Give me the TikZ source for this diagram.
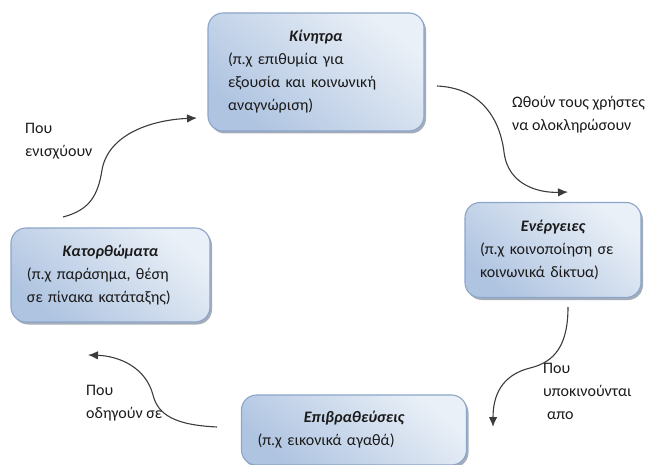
\documentclass[tikz,border=0pt]{standalone}
\usepackage{fontspec}
\setmainfont{Carlito}
\usetikzlibrary{arrows.meta,shadows}

\definecolor{boxedge}{HTML}{8CA5C9}
\definecolor{boxdark}{HTML}{AFC4E1}
\definecolor{boxlight}{HTML}{EAF0F7}
\definecolor{boxshade}{HTML}{5A6A80}
\definecolor{ink}{HTML}{1A1A1A}

\tikzset{
  stagebox/.style={
    draw=boxedge, line width=1.1pt, rounded corners=15pt,
    top color=boxdark, bottom color=boxlight, shading angle=140,
    drop shadow={shadow xshift=2pt, shadow yshift=-2.5pt,
                 fill=boxshade, opacity=0.55},
    inner sep=0pt, align=left, font=\fontsize{16}{23}\selectfont,
    text=ink
  },
  cyclearrow/.style={
    draw=ink!85, line width=1.1pt,
    -{Latex[length=10pt,width=8.5pt]}
  },
  arrowlabel/.style={
    anchor=north west, inner sep=0pt, align=left, text=ink,
    font=\fontsize{16}{23}\selectfont
  }
}
\newcommand{\stagetitle}[1]{\makebox[\linewidth]{\bfseries\itshape #1}}

\begin{document}
\begin{tikzpicture}[x=1pt,y=-1pt]
  \useasboundingbox (0,0) rectangle (650,465);

  % the four stages of the cycle
  \node[stagebox, minimum width=216pt, minimum height=118pt, text width=176pt]
    (kin) at (316,72)
    {\stagetitle{Κίνητρα}\\(π.χ επιθυμία για\\εξουσία και κοινωνική\\αναγνώριση)};
  \node[stagebox, minimum width=176pt, minimum height=95pt, text width=146pt]
    (ene) at (553,250)
    {\stagetitle{Ενέργειες}\\(π.χ κοινοποίηση σε\\κοινωνικά δίκτυα)};
  \node[stagebox, minimum width=225pt, minimum height=70pt, text width=193pt]
    (epi) at (354,430)
    {\stagetitle{Επιβραθεύσεις}\\(π.χ εικονικά αγαθά)};
  \node[stagebox, minimum width=199pt, minimum height=94pt, text width=167pt]
    (kat) at (110.5,275)
    {\stagetitle{Κατορθώματα}\\(π.χ παράσημα, θέση\\σε πίνακα κατάταξης)};

  % loose ends of the curved connectors
  \coordinate (kinout) at (437,86);
  \coordinate (enein)  at (568,192);
  \coordinate (eneout) at (568,307);
  \coordinate (epiin)  at (493,427);
  \coordinate (epiout) at (217,427);
  \coordinate (katin)  at (88,355);
  \coordinate (katout) at (63,217);
  \coordinate (kinin)  at (197,118);

  % S-shaped connectors between the stages
  \draw[cyclearrow] (kinout) .. controls (482,88) and (500,120) .. (504,152)
                    .. controls (508,186) and (540,193) .. (enein);
  \draw[cyclearrow] (eneout) .. controls (568,345) and (555,362) .. (530,368)
                    .. controls (502,375) and (493,395) .. (epiin);
  \draw[cyclearrow] (epiout) .. controls (175,425) and (158,415) .. (153,395)
                    .. controls (146,368) and (120,356) .. (katin);
  \draw[cyclearrow] (katout) .. controls (90,210) and (98,195) .. (102,170)
                    .. controls (108,135) and (150,120) .. (kinin);

  % connector captions
  \node[arrowlabel] (l1) at (512,96)  {Ωθούν τους χρήστες\\να ολοκληρώσουν};
  \node[arrowlabel] (l2) at (543,363) {Που\\υποκινούνται\\\hspace*{4pt}απο};
  \node[arrowlabel] (l3) at (86,385)  {Που\\οδηγούν σε};
  \node[arrowlabel] (l4) at (25,123)  {Που\\ενισχύουν};
\end{tikzpicture}
\end{document}
